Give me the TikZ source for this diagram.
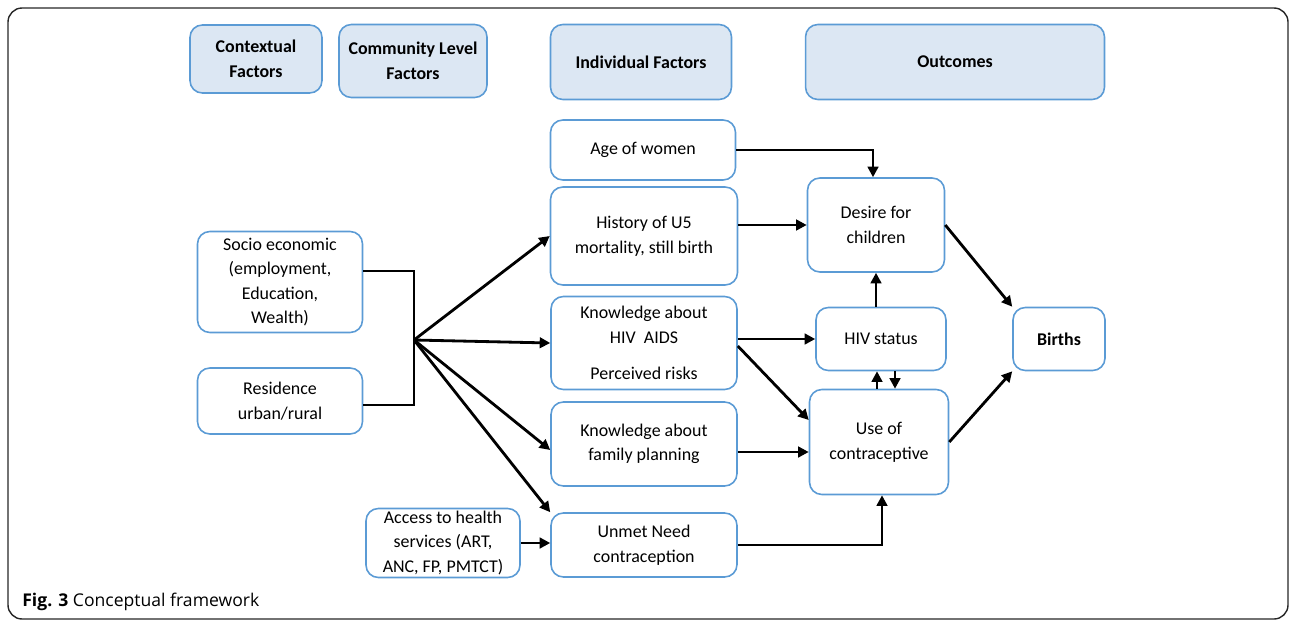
\documentclass[tikz,border=0pt]{standalone}
\usepackage{fontspec}
\setmainfont{Carlito}
\newfontfamily\capfont{Open Sans}
\usetikzlibrary{arrows.meta, positioning}
\definecolor{boxblue}{HTML}{5B9BD5}
\definecolor{headfill}{HTML}{DCE7F3}

\begin{document}
\begin{tikzpicture}[x=0.02cm, y=-0.02cm,
          factor/.style={draw=boxblue, line width=0.9pt, rounded corners=7pt,
                      fill=white, align=center, inner sep=1pt,
                      font=\fontsize{10.2}{14}\selectfont},
          head/.style={factor, fill=headfill,
                      font=\fontsize{10.2}{14}\selectfont\bfseries},
          arr/.style={-{Triangle[length=6pt, width=6pt]}, line width=1.6pt},
          link/.style={line width=1.6pt},
        ]
        \useasboundingbox (0,0) rectangle (1290,622);
        \draw[line width=0.8pt, black!85, rounded corners=8pt] (8,8) rectangle (1288,619);
        % headings
        \node[head, minimum width=2.64cm, minimum height=1.36cm] (ctx) at (256,59) {Contextual\\Factors};
        \node[head, minimum width=2.96cm, minimum height=1.46cm] (comm) at (413,61) {Community Level\\Factors};
        \node[head, minimum width=3.62cm, minimum height=1.5cm] (indiv) at (641,62) {Individual Factors};
        \node[head, minimum width=5.98cm, minimum height=1.5cm] (outc) at (955,62) {Outcomes};
        % factors
        \node[factor, minimum width=3.3cm, minimum height=2.02cm] (socio) at (280,282)
              {Socio economic\\(employment,\\Education,\\Wealth)};
        \node[factor, minimum width=3.3cm, minimum height=1.32cm] (resid) at (280,401)
              {Residence\\urban/rural};
        \node[factor, minimum width=3.08cm, minimum height=1.38cm] (access) at (443,543)
              {Access to health\\services (ART,\\ANC, FP, PMTCT)};
        \node[factor, minimum width=3.7cm, minimum height=1.2cm] (age) at (643,150) {Age of women};
        \node[factor, minimum width=3.74cm, minimum height=1.96cm] (hist) at (644,236)
              {History of U5\\mortality, still birth};
        \node[factor, minimum width=3.72cm, minimum height=1.86cm] (know) at (644,343)
              {Knowledge about\\HIV~~AIDS\\[7pt]Perceived risks};
        \node[factor, minimum width=3.72cm, minimum height=1.68cm] (fp) at (644,444)
              {Knowledge about\\family planning};
        \node[factor, minimum width=3.72cm, minimum height=1.28cm] (unmet) at (644,545)
              {Unmet Need\\contraception};
        % outcomes
        \node[factor, minimum width=2.74cm, minimum height=1.88cm] (desire) at (876,225)
              {Desire for\\children};
        \node[factor, minimum width=2.6cm, minimum height=1.26cm] (hiv) at (881,339) {HIV status};
        \node[factor, minimum width=2.78cm, minimum height=2.1cm] (use) at (879,442)
              {Use of\\contraceptive};
        \node[factor, minimum width=1.84cm, minimum height=1.26cm, font=\fontsize{10.2}{14}\selectfont\bfseries]
              (births) at (1059,339) {Births};
        % bracket of contextual factors
        \coordinate (hub) at (414,340);
        \draw[link] ([yshift=0.22cm]socio.east) -| (hub) |- ([yshift=-0.08cm]resid.east);
        \draw[arr] (hub) -- (hist.west);
        \draw[arr] (hub) -- (know.west);
        \draw[arr] (hub) -- ([yshift=-0.12cm]fp.west);
        \draw[arr] (hub) -- (unmet.north west);
        \draw[arr] (access.east) -- (access.east -| unmet.west);
        % paths to outcomes
        \draw[arr] (age.east) -| ([xshift=-0.06cm]desire.north);
        \draw[arr] (desire.west -| hist.east) -- (desire.west);
        \draw[arr] (know.east |- hiv.west) -- (hiv.west);
        \draw[arr] ([yshift=-0.06cm]know.east) -- ([yshift=0.44cm]use.west);
        \draw[arr] (hiv.north -| desire.south) -- (desire.south);
        \draw[arr] ([xshift=-0.04cm]use.north) -- ([xshift=-0.04cm]use.north |- hiv.south);
        \draw[arr] ([xshift=0.28cm]hiv.south) -- ([xshift=0.28cm]hiv.south |- use.north);
        \draw[arr] ([yshift=-0.16cm]fp.east) -- ([yshift=-0.16cm]fp.east -| use.west);
        \draw[arr] (unmet.east) -| ([xshift=0.06cm]use.south);
        \draw[arr] (desire.east) -- (births.north west);
        \draw[arr] (use.east) -- (births.south west);
        % caption
        \node[anchor=base west, inner sep=0pt, font=\capfont\fontsize{10}{12}\selectfont]
              (cap) at (22,606) {\textbf{Fig. 3} Conceptual framework};
      \end{tikzpicture}
\end{document}
